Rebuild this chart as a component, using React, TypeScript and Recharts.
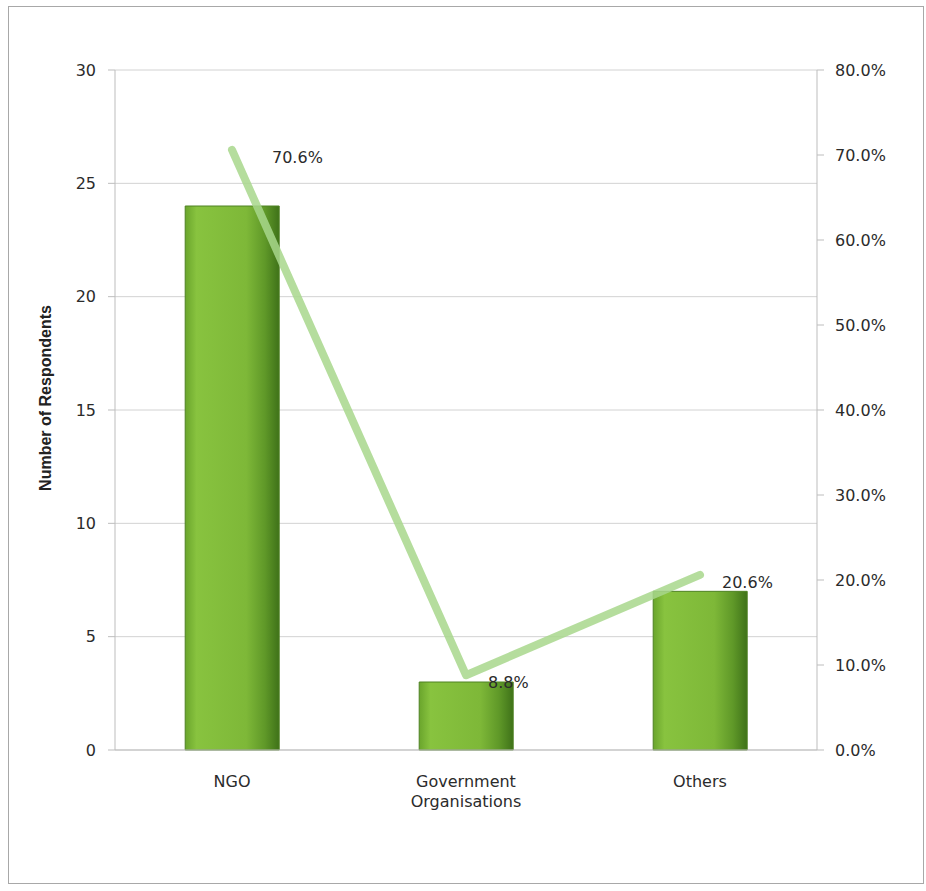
import {
  ComposedChart,
  Bar,
  Line,
  XAxis,
  YAxis,
  CartesianGrid,
  LabelList,
} from "recharts";

const categories = ["NGO", "Government Organisations", "Others"];
const respondents = [24, 3, 7];
const percentages = [70.6, 8.8, 20.6];
const countTicks = [0, 5, 10, 15, 20, 25, 30];
const percentTicks = [0, 10, 20, 30, 40, 50, 60, 70, 80];

const data = categories.map((name, i) => ({
  name,
  respondents: respondents[i],
  percent: percentages[i],
}));

const FONT = "'DejaVu Sans', sans-serif";
const TEXT = "#2b2b2b";

const CategoryTick = ({ x, y, payload }: any) => {
  const words = String(payload.value).split(" ");
  return (
    <text x={x} y={y} textAnchor="middle" fill={TEXT} fontSize={16} fontFamily={FONT}>
      {words.map((w, i) => (
        <tspan key={i} x={x} dy={i === 0 ? "0.71em" : "1.25em"}>
          {w}
        </tspan>
      ))}
    </text>
  );
};

const PercentLabel = (props: any) => {
  const { x, y, value, index } = props;
  const dx = index === 0 ? 40 : 22;
  return (
    <text
      x={x + dx}
      y={y + 7}
      dy="0.35em"
      fill={TEXT}
      fontSize={16}
      fontFamily={FONT}
    >
      {Number(value).toFixed(1)}%
    </text>
  );
};

const AxisTitle = (props: any) => {
  const vb = props.viewBox || {};
  const cx = vb.x + 16;
  const cy = vb.y + vb.height / 2 - 12;
  return (
    <text
      x={cx}
      y={cy}
      textAnchor="middle"
      dy="0.35em"
      transform={`rotate(-90 ${cx} ${cy})`}
      fill="#222"
      fontSize={16}
      fontWeight="bold"
      fontFamily="'Liberation Sans', Arial, sans-serif"
    >
      Number of Respondents
    </text>
  );
};

export default function App() {
  return (
    <div
      style={{
        position: "absolute",
        left: 8,
        top: 6,
        width: 914,
        height: 876,
        border: "1px solid #a8a8a8",
        background: "#fff",
      }}
    >
      <ComposedChart
        width={914}
        height={876}
        data={data}
        margin={{ top: 63, right: 20, left: 20, bottom: 73 }}
        barCategoryGap="30%"
      >
        <defs>
          <linearGradient id="barFill" x1="0" y1="0" x2="1" y2="0">
            <stop offset="0%" stopColor="#6aa52c" />
            <stop offset="12%" stopColor="#88c33f" />
            <stop offset="65%" stopColor="#7eb838" />
            <stop offset="85%" stopColor="#5f9828" />
            <stop offset="100%" stopColor="#3f7219" />
          </linearGradient>
        </defs>
        <CartesianGrid vertical={false} stroke="#d2d2d2" yAxisId="left" />
        <XAxis
          dataKey="name"
          interval={0}
          height={60}
          tick={<CategoryTick />}
          tickLine={false}
          tickSize={0}
          tickMargin={26}
          axisLine={{ stroke: "#bdbdbd" }}
        />
        <YAxis
          yAxisId="left"
          width={86}
          domain={[0, 30]}
          ticks={countTicks}
          interval={0}
          tick={{ fill: TEXT, fontSize: 16, fontFamily: FONT }}
          tickSize={7}
          tickMargin={12}
          tickLine={{ stroke: "#bdbdbd" }}
          axisLine={{ stroke: "#bdbdbd" }}
          label={<AxisTitle />}
        />
        <YAxis
          yAxisId="right"
          orientation="right"
          width={86}
          domain={[0, 80]}
          ticks={percentTicks}
          interval={0}
          tickFormatter={(v: number) => `${v.toFixed(1)}%`}
          tick={{ fill: TEXT, fontSize: 16, fontFamily: FONT }}
          tickSize={7}
          tickMargin={11}
          tickLine={{ stroke: "#bdbdbd" }}
          axisLine={{ stroke: "#bdbdbd" }}
        />
        <Bar
          yAxisId="left"
          dataKey="respondents"
          fill="url(#barFill)"
          stroke="#4f8223"
          strokeWidth={1}
          isAnimationActive={false}
        />
        <Line
          yAxisId="right"
          dataKey="percent"
          type="linear"
          stroke="#a8d78c"
          strokeOpacity={0.85}
          strokeWidth={8}
          strokeLinecap="round"
          strokeLinejoin="round"
          dot={false}
          activeDot={false}
          isAnimationActive={false}
        >
          <LabelList dataKey="percent" content={<PercentLabel />} />
        </Line>
      </ComposedChart>
    </div>
  );
}
